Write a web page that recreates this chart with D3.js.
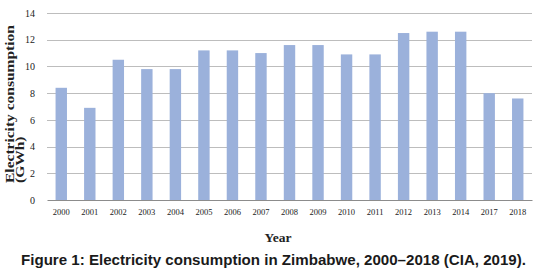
<!DOCTYPE html>
<html>
<head>
<meta charset="utf-8">
<script src="https://cdn.jsdelivr.net/npm/d3@7"></script>
<style>
  body { margin: 0; background: #fff; }
  svg { display: block; }
</style>
</head>
<body>
<div id="chart"></div>
<script>
// Electricity consumption in Zimbabwe - bar chart
const years = ["2000", "2001", "2002", "2003", "2004", "2005", "2006", "2007", "2008",
  "2009", "2010", "2011", "2012", "2013", "2014", "2017", "2018"];
const consumption = [8.4, 6.9, 10.5, 9.8, 9.8, 11.2, 11.2, 11.0, 11.6,
  11.6, 10.9, 10.9, 12.5, 12.6, 12.6, 8.0, 7.6];
const yTicks = [0, 2, 4, 6, 8, 10, 12, 14];

const W = 560, H = 280;
const margin = { top: 13, right: 28, bottom: 80, left: 47 };
const width = W - margin.left - margin.right;
const height = H - margin.top - margin.bottom;

const serif = "'Liberation Serif', 'Times New Roman', serif";

const svg = d3.select("#chart").append("svg")
  .attr("width", W)
  .attr("height", H);

const g = svg.append("g")
  .attr("transform", `translate(${margin.left},${margin.top})`);

const x = d3.scaleBand()
  .domain(years)
  .range([0, width])
  .paddingInner(0.6)
  .paddingOuter(0.3);

const y = d3.scaleLinear()
  .domain([0, 14])
  .range([height, 0]);

// gridlines
g.append("g")
  .selectAll("line")
  .data(yTicks.filter(d => d > 0))
  .join("line")
  .attr("x1", 0)
  .attr("x2", width)
  .attr("y1", d => Math.round(y(d)) + 0.5)
  .attr("y2", d => Math.round(y(d)) + 0.5)
  .attr("stroke", "#bdbdbd")
  .attr("stroke-width", 1);

// bars
g.append("g")
  .selectAll("rect")
  .data(years.map((yr, i) => ({ yr, v: consumption[i] })))
  .join("rect")
  .attr("x", d => x(d.yr))
  .attr("y", d => y(d.v))
  .attr("width", x.bandwidth())
  .attr("height", d => y(0) - y(d.v))
  .attr("fill", "#9bb1db");

// y axis labels
const yAxis = g.append("g")
  .call(d3.axisLeft(y).tickValues(yTicks).tickSize(0).tickPadding(12));
yAxis.select(".domain").remove();
yAxis.selectAll("text")
  .attr("font-family", serif)
  .attr("font-size", 10)
  .attr("fill", "#222");

// x axis
const xAxis = g.append("g")
  .attr("transform", `translate(0,${height})`)
  .call(d3.axisBottom(x).tickSize(0).tickPadding(9));
xAxis.select(".domain")
  .attr("stroke", "#8c8c8c");
xAxis.selectAll("text")
  .attr("font-family", serif)
  .attr("font-size", 8.5)
  .attr("fill", "#222");

// axis titles
svg.append("text")
  .attr("x", 278)
  .attr("y", 242)
  .attr("text-anchor", "middle")
  .attr("font-family", serif)
  .attr("font-weight", "bold")
  .attr("font-size", 13.5)
  .attr("fill", "#222")
  .text("Year");

// rotated title, glyphs squeezed across so the two lines fit like the original
const yTitle = svg.append("text")
  .attr("transform", "translate(14,183) rotate(-90) scale(1,0.75)")
  .attr("font-family", serif)
  .attr("font-weight", "bold")
  .attr("font-size", 15.5)
  .attr("fill", "#222");
yTitle.append("tspan").attr("x", 0).attr("y", 0).text("Electricity consumption");
yTitle.append("tspan").attr("x", 0).attr("y", 13).text("(GWh)");

// caption
svg.append("text")
  .attr("x", 273.5)
  .attr("y", 265)
  .attr("text-anchor", "middle")
  .attr("font-family", "'Liberation Sans', Arial, sans-serif")
  .attr("font-weight", "bold")
  .attr("font-size", 15.1)
  .attr("fill", "#1a1a1a")
  .text("Figure 1: Electricity consumption in Zimbabwe, 2000\u20132018 (CIA, 2019).");
</script>
</body>
</html>
